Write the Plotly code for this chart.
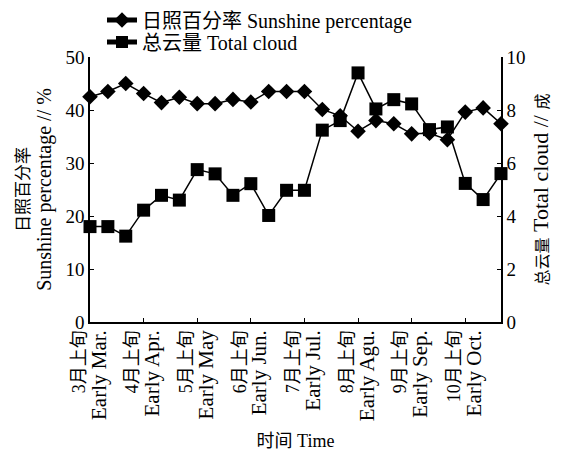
import plotly.graph_objects as go

months = ["3月", "4月", "5月", "6月", "7月", "8月", "9月", "10月"]
parts = ["上旬", "中旬", "下旬"]
periods = [m + p for m in months for p in parts]

tick_periods = [m + "上旬" for m in months]
tick_cn = ["3月上旬", "4月上旬", "5月上旬", "6月上旬", "7月上旬", "8月上旬", "9月上旬", "10月上旬"]
tick_en = ["Early Mar.", "Early Apr.", "Early May", "Early Jun.",
           "Early Jul.", "Early Agu.", "Early Sep.", "Early Oct."]

sunshine = [42.5, 43.5, 45.0, 43.1, 41.4, 42.4, 41.2, 41.2, 42.0, 41.5, 43.5, 43.5,
            43.5, 40.1, 38.9, 36.0, 38.0, 37.4, 35.5, 35.6, 34.4, 39.6, 40.4, 37.4]
cloud = [3.6, 3.6, 3.24, 4.22, 4.78, 4.6, 5.75, 5.59, 4.78, 5.22, 4.02, 4.97,
         4.97, 7.24, 7.6, 9.4, 8.04, 8.39, 8.23, 7.26, 7.36, 5.23, 4.62, 5.6]

FONT = "Liberation Serif, Noto Sans CJK SC, serif"
# page body has an 8px default margin; size the figure to fill the rest of the window
W, H = 565, 446
ML, MR, MT, MB = 82, 72, 49, 132
PW, PH = W - ML - MR, H - MT - MB


def two_size(cn, en, cn_size, en_size):
    return (f"<span style='font-size:{cn_size}px'>{cn}</span><br>"
            f"<span style='font-size:{en_size}px'>{en}</span>")


tick_text = [two_size(c, e, 18, 21) for c, e in zip(tick_cn, tick_en)]

fig = go.Figure()
fig.add_trace(go.Scatter(
    x=periods, y=sunshine, name="日照百分率 Sunshine percentage",
    mode="lines+markers", line=dict(color="black", width=1.5),
    marker=dict(symbol="diamond", size=12, color="black"),
    cliponaxis=False, yaxis="y", legend="legend"))
fig.add_trace(go.Scatter(
    x=periods, y=cloud, name="总云量 Total cloud",
    mode="lines+markers", line=dict(color="black", width=1.5),
    marker=dict(symbol="square", size=13, color="black"),
    cliponaxis=False, yaxis="y2", legend="legend2"))

leg_common = dict(xanchor="left", yanchor="middle",
                  bgcolor="rgba(0,0,0,0)", font=dict(size=20), itemsizing="constant")

fig.update_layout(
    width=W, height=H,
    margin=dict(l=ML, r=MR, t=MT, b=MB, autoexpand=False),
    paper_bgcolor="white", plot_bgcolor="white",
    font=dict(family=FONT, size=18, color="black"),
    showlegend=True,
    legend=dict(x=(94 - ML) / PW, y=(H - MB - 12) / PH, **leg_common),
    legend2=dict(x=(94 - ML) / PW, y=(H - MB - 34) / PH, **leg_common),
    xaxis=dict(
        type="category", categoryorder="array", categoryarray=periods,
        range=[0, len(periods) - 1], automargin=False,
        tickmode="array", tickvals=tick_periods, ticktext=tick_text,
        tickangle=-90, ticks="inside", ticklen=4, tickcolor="black",
        showline=True, linecolor="black", linewidth=1.5, mirror=False,
        showgrid=False, zeroline=False,
        tickfont=dict(size=16),
        title=dict(text="时间 Time", font=dict(size=18), standoff=14),
    ),
    yaxis=dict(
        range=[0, 50], dtick=10, ticks="inside", ticklen=4, tickcolor="black",
        showline=True, linecolor="black", linewidth=1.5, automargin=False,
        showgrid=False, zeroline=False, tickfont=dict(size=19),
        title=dict(text=two_size("日照百分率", "Sunshine percentage // %", 17, 20),
                   font=dict(size=17), standoff=9),
    ),
    yaxis2=dict(
        range=[0, 10], dtick=2, overlaying="y", side="right", automargin=False,
        ticks="inside", ticklen=4, tickcolor="black",
        showline=True, linecolor="black", linewidth=1.5,
        showgrid=False, zeroline=False, tickfont=dict(size=19),
        title=dict(text="<span style='font-size:16px'>总云量</span> Total cloud // "
                        "<span style='font-size:16px'>成</span>",
                   font=dict(size=22), standoff=8),
    ),
)

fig.write_html("out.html")
